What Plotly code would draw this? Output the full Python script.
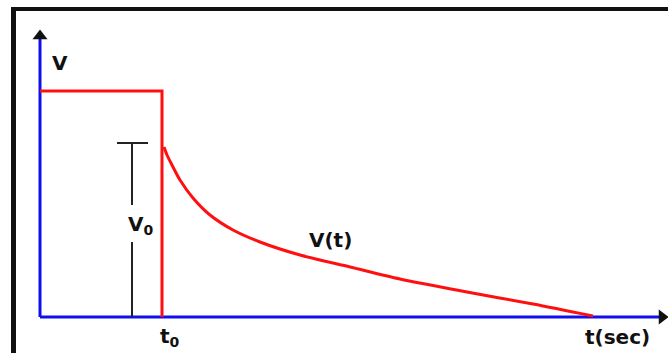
import plotly.graph_objects as go

# ---- data (arbitrary units) ----
t0 = 122                 # switching instant
V_high = 226             # level before t0
V0 = 174                 # initial value of the decay
marker_t = 92            # where the V0 dimension bar is drawn
decay_t = [124, 127, 132, 140, 153, 170, 193, 220, 260, 310, 360, 427, 493, 553]
decay_V = [170, 162, 152, 137, 119, 102, 87, 75, 62, 50, 38, 25, 13, 1]
t_axis_end = 628
V_axis_end = 287

RED = "#ff1010"
BLUE = "#1010ee"
FONT = dict(family="DejaVu Sans", size=20, color="#111111")

fig = go.Figure()

# blue axes
fig.add_trace(go.Scatter(x=[0, 0], y=[0, V_axis_end - 6], mode="lines",
                         line=dict(color=BLUE, width=3), hoverinfo="skip"))
fig.add_trace(go.Scatter(x=[0, t_axis_end - 6], y=[0, 0], mode="lines",
                         line=dict(color=BLUE, width=3), hoverinfo="skip"))
# arrow heads
fig.add_trace(go.Scatter(x=[0], y=[V_axis_end - 6], mode="markers",
                         marker=dict(symbol="triangle-up", size=13, color="#111111"),
                         hoverinfo="skip"))
fig.add_trace(go.Scatter(x=[t_axis_end - 6], y=[0], mode="markers",
                         marker=dict(symbol="triangle-right", size=13, color="#111111"),
                         hoverinfo="skip"))

# step pulse
fig.add_trace(go.Scatter(x=[0, t0, t0], y=[V_high, V_high, 0], mode="lines",
                         line=dict(color=RED, width=3), hoverinfo="skip"))
# decay curve
fig.add_trace(go.Scatter(x=decay_t, y=decay_V, mode="lines",
                         line=dict(color=RED, width=3, shape="spline", smoothing=0.8),
                         hoverinfo="skip"))

# V0 dimension marker
gap_top = 112
gap_bot = 75
fig.add_trace(go.Scatter(x=[marker_t - 15, marker_t + 16, None, marker_t, marker_t, None, marker_t, marker_t],
                         y=[V0, V0, None, V0, gap_top, None, gap_bot, 0],
                         mode="lines", line=dict(color="#222222", width=2),
                         hoverinfo="skip"))

annotations = [
    dict(x=20, y=254, text="<b>V</b>"),
    dict(x=marker_t + 8, y=92, text="<b>V</b><sub><b>0</b></sub>"),
    dict(x=t0 + 8, y=-20, text="<b>t</b><sub><b>0</b></sub>"),
    dict(x=290, y=77, text="<b>V(t)</b>"),
    dict(x=577, y=-20, text="<b>t(sec)</b>"),
]
for a in annotations:
    a.update(xref="x", yref="y", showarrow=False, font=FONT)

fig.update_layout(
    width=668, height=353,
    margin=dict(l=0, r=0, t=0, b=0),
    paper_bgcolor="white", plot_bgcolor="white",
    showlegend=False,
    xaxis=dict(range=[-40, 628], visible=False, fixedrange=True),
    yaxis=dict(range=[-36, 317], visible=False, fixedrange=True),
    annotations=annotations,
    shapes=[
        dict(type="line", xref="paper", yref="paper", x0=13.5/668, x1=13.5/668,
             y0=0, y1=1 - 7/353, line=dict(color="#111111", width=5)),
        dict(type="line", xref="paper", yref="paper", x0=11/668, x1=1,
             y0=1 - 9/353, y1=1 - 9/353, line=dict(color="#111111", width=4)),
    ],
)

fig.write_html("out.html", config={"displayModeBar": False},
               post_script="document.body.style.margin='0';document.body.style.overflow='hidden';")
